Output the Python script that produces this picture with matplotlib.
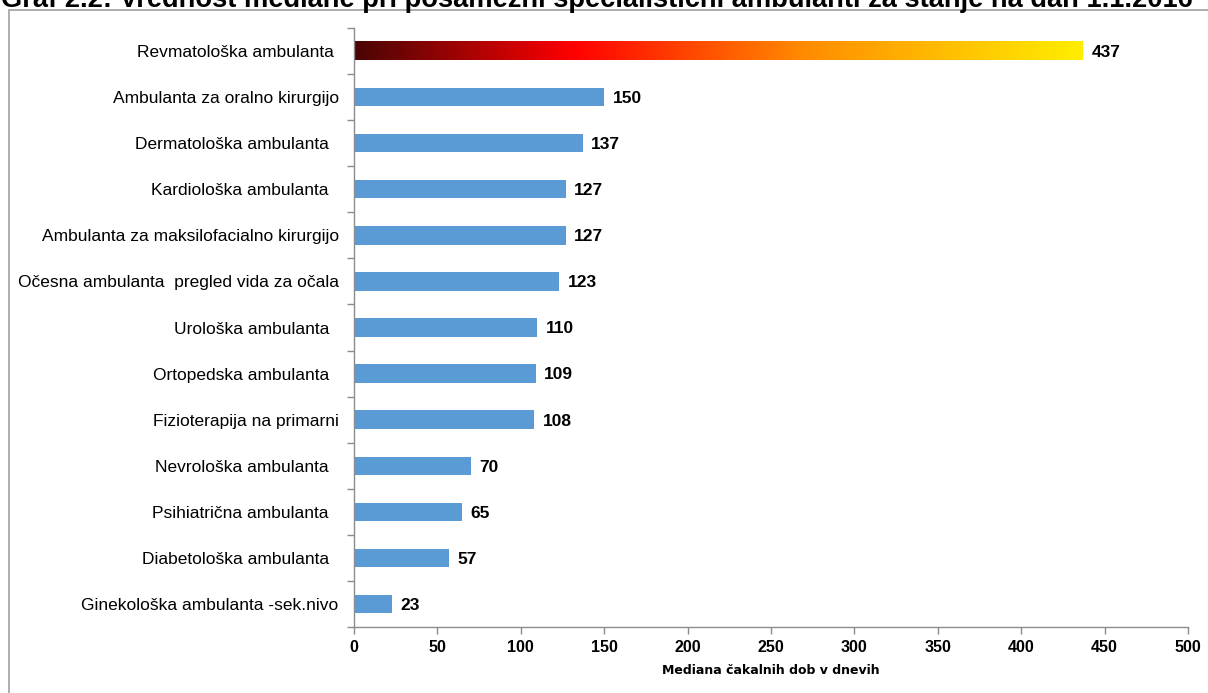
import matplotlib
matplotlib.use("Agg")
import matplotlib.pyplot as plt
import numpy as np
from matplotlib.colors import LinearSegmentedColormap
from matplotlib.lines import Line2D

categories = [
    "Revmatološka ambulanta ",
    "Ambulanta za oralno kirurgijo",
    "Dermatološka ambulanta  ",
    "Kardiološka ambulanta  ",
    "Ambulanta za maksilofacialno kirurgijo",
    "Očesna ambulanta  pregled vida za očala",
    "Urološka ambulanta  ",
    "Ortopedska ambulanta  ",
    "Fizioterapija na primarni",
    "Nevrološka ambulanta  ",
    "Psihiatrična ambulanta  ",
    "Diabetološka ambulanta  ",
    "Ginekološka ambulanta -sek.nivo",
]
values = [437, 150, 137, 127, 127, 123, 110, 109, 108, 70, 65, 57, 23]
xticks = [0, 50, 100, 150, 200, 250, 300, 350, 400, 450, 500]
title = "Graf 2.2: Vrednost mediane pri posamezni specialistični ambulanti za stanje na dan 1.1.2016"
xlabel = "Mediana čakalnih dob v dnevih"

narrow = ["Liberation Sans Narrow", "Liberation Sans", "DejaVu Sans"]

fig = plt.figure(figsize=(12.08, 6.93), dpi=100)
W, H = 1208, 693
ax = fig.add_axes([354 / W, 1 - 627 / H, (1188 - 354) / W, (627 - 28) / H])

n = len(categories)
ypos = np.arange(n)
bar_h = 0.4
blue = "#5B9BD5"
for i, (y, v) in enumerate(zip(ypos, values)):
    if i == 0:
        cmap = LinearSegmentedColormap.from_list(
            "g", [(0.0, "#4a0505"), (0.3, "#ff0000"), (0.62, "#ff8c00"), (1.0, "#ffee00")])
        grad = np.linspace(0, 1, 512).reshape(1, -1)
        ax.imshow(grad, cmap=cmap, aspect="auto",
                  extent=[0, v, y + bar_h / 2, y - bar_h / 2], zorder=2)
    else:
        ax.barh(y, v, height=bar_h, color=blue, zorder=2)
    ax.text(v + 5, y + 0.03, str(v), va="center", ha="left", fontsize=12.5,
            fontweight="bold", family=narrow, color="black")

ax.set_ylim(n - 0.5, -0.5)
ax.set_xlim(0, 500)
ax.set_yticks(ypos)
ax.set_yticklabels(categories, fontsize=12.5, family="Liberation Sans")
ax.set_yticks(np.arange(-0.5, n, 1), minor=True)
ax.tick_params(axis="y", which="major", length=0, pad=11)
ax.tick_params(axis="y", which="minor", length=5, color="#8c8c8c", width=1)
ax.set_xticks(xticks)
ax.set_xticklabels([str(t) for t in xticks], fontsize=11.5, fontweight="bold",
                   family=narrow)
ax.tick_params(axis="x", length=5, color="#8c8c8c", width=1, pad=4)
ax.set_xlabel(xlabel, fontsize=9, fontweight="bold", family="DejaVu Sans", labelpad=7)

for s in ["top", "right"]:
    ax.spines[s].set_visible(False)
for s in ["left", "bottom"]:
    ax.spines[s].set_color("#8c8c8c")
    ax.spines[s].set_linewidth(1)

# outer frame
fig.add_artist(Line2D([10 / W, 1.0], [1 - 10 / H, 1 - 10 / H], transform=fig.transFigure,
                      color="#a0a0a0", lw=1.2))
fig.add_artist(Line2D([9 / W, 9 / W], [1 - 10 / H, 0], transform=fig.transFigure,
                      color="#a0a0a0", lw=1.2))

fig.text(1 / W, 1 - 7 / H, title, ha="left", va="baseline", fontsize=19.6,
         fontweight="bold", family="Liberation Sans")

fig.savefig("out.png", dpi=100)
